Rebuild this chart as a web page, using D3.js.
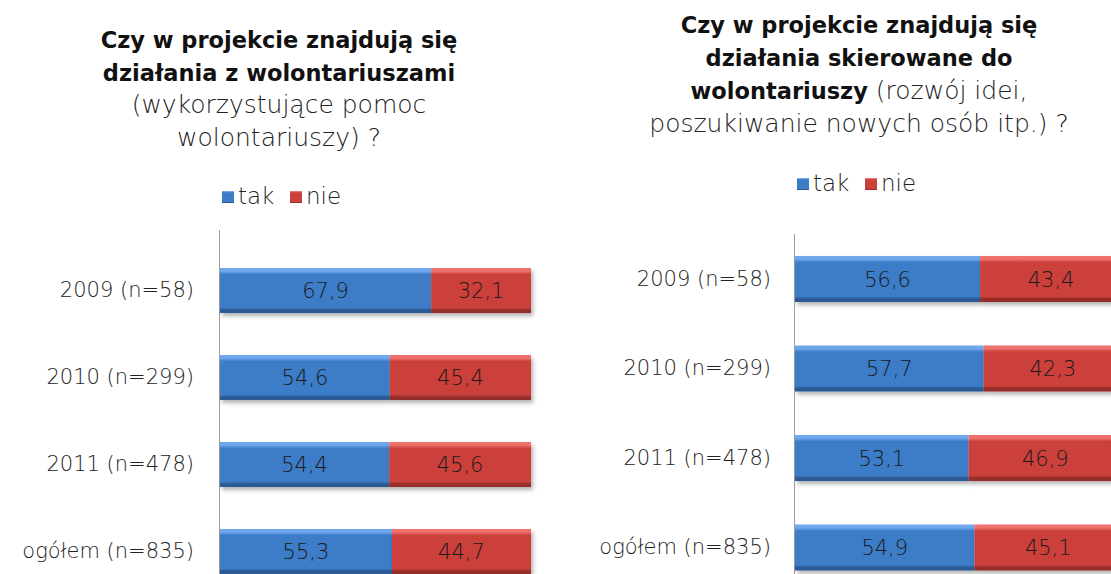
<!DOCTYPE html>
<html>
<head>
<meta charset="utf-8">
<script src="https://cdn.jsdelivr.net/npm/d3@7"></script>
<style>
  body { margin: 0; background: #fff; }
  svg { display: block; font-family: "DejaVu Sans", sans-serif; }
  .light { font-weight: 200; fill: #222; }
  .bold { font-weight: 700; fill: #111; }
</style>
</head>
<body>
<svg id="chart" width="1111" height="574"></svg>
<script>
// data
const categories = ["2009 (n=58)", "2010 (n=299)", "2011 (n=478)", "ogółem (n=835)"];
const seriesNames = ["tak", "nie"];
const takLeft = [67.9, 54.6, 54.4, 55.3];
const nieLeft = [32.1, 45.4, 45.6, 44.7];
const takRight = [56.6, 57.7, 53.1, 54.9];
const nieRight = [43.4, 42.3, 46.9, 45.1];

const colors = {
  tak: { light: "#70a8ee", base: "#3e7cc7", dark: "#2c5a94" },
  nie: { light: "#ee716c", base: "#cc403b", dark: "#952d2a" }
};

const svg = d3.select("#chart");
const defs = svg.append("defs");

// bevel-like gradients
seriesNames.forEach(s => {
  const g = defs.append("linearGradient").attr("id", "grad-" + s)
    .attr("x1", "0%").attr("y1", "0%").attr("x2", "0%").attr("y2", "100%");
  g.selectAll("stop")
    .data([
      { o: "0%", c: colors[s].light },
      { o: "7%", c: colors[s].light },
      { o: "14%", c: colors[s].base },
      { o: "88%", c: colors[s].base },
      { o: "93%", c: colors[s].dark },
      { o: "100%", c: colors[s].dark }
    ])
    .enter().append("stop")
    .attr("offset", d => d.o)
    .attr("stop-color", d => d.c);
});

const shadow = defs.append("filter").attr("id", "shadow")
  .attr("x", "-5%").attr("y", "-20%").attr("width", "115%").attr("height", "150%");
shadow.append("feDropShadow").attr("dx", 2).attr("dy", 3)
  .attr("stdDeviation", 2).attr("flood-color", "#000").attr("flood-opacity", 0.3);

function fmt(v) { return v.toFixed(1).replace(".", ","); }

function panel(opt) {
  const g = svg.append("g");

  // title
  const title = g.append("text").attr("text-anchor", "middle");
  opt.title.forEach((line, i) => {
    const t = title.append("tspan").attr("x", opt.cx).attr("y", opt.titleY + i * opt.lineH);
    line.forEach(part => {
      t.append("tspan").attr("class", part.b ? "bold" : "light")
        .style("font-size", part.b ? "22.5px" : "25px").text(part.t);
    });
  });

  // legend
  const leg = g.append("g").attr("transform", `translate(${opt.legX},${opt.legY})`);
  seriesNames.forEach((s, i) => {
    const x = i * 68;
    leg.append("rect").attr("x", x).attr("y", -13).attr("width", 12).attr("height", 12)
      .attr("fill", "url(#grad-" + s + ")");
    leg.append("text").attr("class", "light").attr("x", x + 16).attr("y", 0)
      .style("font-size", "23px").text(s);
  });

  const x = d3.scaleLinear().domain([0, 100]).range([opt.x0, opt.x0 + opt.w]);
  const y = d3.scaleBand().domain(categories)
    .range([opt.yTop, opt.yTop + categories.length * opt.step])
    .paddingInner(opt.pad).paddingOuter(opt.pad / 2);

  // vertical axis line
  g.append("line").attr("x1", opt.x0 - 0.5).attr("x2", opt.x0 - 0.5)
    .attr("y1", opt.axisTop).attr("y2", 574)
    .attr("stroke", "#a0a0a0").attr("stroke-width", 1);

  const axis = g.append("g").attr("transform", `translate(${opt.x0},0)`)
    .call(d3.axisLeft(y).tickSize(0).tickPadding(opt.tickPad));
  axis.select(".domain").remove();
  axis.selectAll("text").attr("class", "light")
    .style("font-family", "'DejaVu Sans', sans-serif").style("font-size", "21px");

  const rows = categories.map((c, i) => ({ cat: c, tak: opt.tak[i], nie: opt.nie[i] }));
  const stack = d3.stack().keys(seriesNames)(rows);

  const layer = g.selectAll(".layer").data(stack).enter().append("g");
  layer.selectAll("rect").data(d => d.map(v => ({ v, key: d.key }))).enter()
    .append("rect")
    .attr("x", d => x(d.v[0]))
    .attr("y", d => y(d.v.data.cat))
    .attr("width", d => x(d.v[1]) - x(d.v[0]))
    .attr("height", y.bandwidth())
    .attr("fill", d => "url(#grad-" + d.key + ")")
    .attr("filter", "url(#shadow)");

  layer.selectAll("text").data(d => d.map(v => ({ v, key: d.key }))).enter()
    .append("text")
    .attr("class", "light")
    .attr("x", d => (x(d.v[0]) + x(d.v[1])) / 2)
    .attr("y", d => y(d.v.data.cat) + y.bandwidth() / 2)
    .attr("dy", "0.36em")
    .attr("text-anchor", "middle")
    .style("font-size", "21px")
    .style("fill", "#1a1a1a")
    .text(d => fmt(d.v.data[d.key]));
}

panel({
  cx: 279, titleY: 48, lineH: 32.5,
  title: [
    [{ t: "Czy w projekcie  znajdują się", b: true }],
    [{ t: "działania z wolontariuszami", b: true }],
    [{ t: "(wykorzystujące pomoc", b: false }],
    [{ t: "wolontariuszy) ?", b: false }]
  ],
  legX: 222, legY: 204,
  x0: 220, w: 311, yTop: 247, step: 87, pad: 0.483, axisTop: 230, tickPad: 26,
  tak: takLeft, nie: nieLeft
});

panel({
  cx: 859, titleY: 33, lineH: 33,
  title: [
    [{ t: "Czy w projekcie  znajdują się", b: true }],
    [{ t: "działania skierowane do", b: true }],
    [{ t: "wolontariuszy", b: true }, { t: " (rozwój idei,", b: false }],
    [{ t: "poszukiwanie nowych osób itp.) ?", b: false }]
  ],
  legX: 797, legY: 191,
  x0: 795, w: 327, yTop: 234.25, step: 89.5, pad: 0.486, axisTop: 234, tickPad: 24,
  tak: takRight, nie: nieRight
});
</script>
</body>
</html>
